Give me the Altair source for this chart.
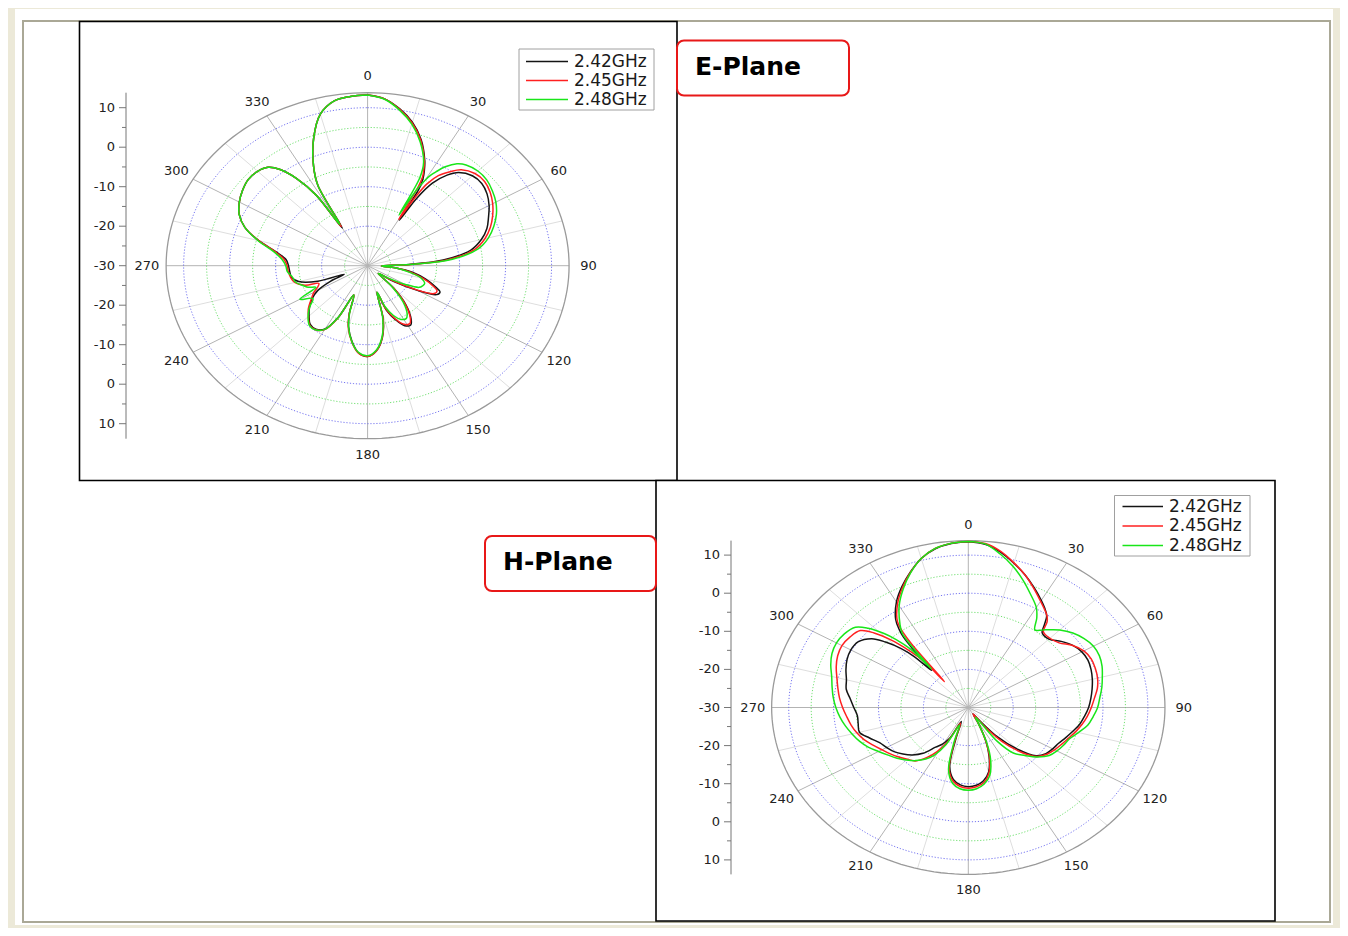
import altair as alt
import pandas as pd

# ------------------------------------------------------------------ data
FREQS = ["2.42GHz", "2.45GHz", "2.48GHz"]
LINE_COLORS = ["#141414", "#ff2020", "#19e619"]
PLANE_TITLES = ["E-Plane", "H-Plane"]

ANGLE_TICKS = [0, 30, 60, 90, 120, 150, 180, 210, 240, 270, 300, 330]
ANGLE_LABELS = ["0", "30", "60", "90", "120", "150", "180", "210", "240", "270", "300", "330"]
RADIAL_LABELS = ["10", "0", "-10", "-20", "-30", "-20", "-10", "0", "10"]
RADIAL_SIDE = [1, 1, 1, 1, 1, -1, -1, -1, -1]
GRID_BLUE = [-20, -10, 0, 10]
GRID_GREEN = [-25, -15, -5, 5]
R_MIN, R_MAX = -30.0, 13.8

# E-plane (angle in degrees, gain in dB)
E_ANGLES = [0, 5, 10, 15, 20, 25,
            27, 28, 29, 30, 31, 32, 34, 37,
            40, 45, 50, 55, 60, 65, 70, 75, 80, 85,
            88, 91, 95,
            100, 105, 110, 113, 116, 120, 125, 130, 135, 140, 145,
            148, 152, 156, 160, 163, 166,
            170, 175, 180, 185, 190, 195,
            198, 202, 206,
            210, 215, 220, 225, 230, 235, 240,
            244, 247,
            250, 255, 260, 265, 270, 275, 280, 285, 290, 295, 300, 305, 310, 315,
            319, 322, 325, 328, 330, 332, 335,
            340, 345, 350, 355]
E_242 = [13.2, 12.4, 10.3, 7.6, 4.0, -0.6,
         -2.8, -4.0, -5.5, -8.0, -16.6, -10.0, -4.8, -1.3,
         0.8, 2.2, 2.4, 1.7, 0.5, -1.0, -2.4, -4.4, -7.2, -13.5,
         -21.0, -27.0, -24.0,
         -20.0, -17.0, -14.3, -12.9, -13.3, -17.5, -23.0, -27.0, -22.0, -17.0, -13.5,
         -12.3, -12.8, -15.0, -18.0, -23.0, -16.0,
         -11.5, -8.3, -7.0, -7.8, -10.5, -14.0,
         -17.0, -22.0, -15.5,
         -11.5, -10.4, -10.6, -12.0, -13.5, -15.2, -17.5,
         -21.0, -24.5,
         -18.5, -14.5, -13.2, -13.0, -12.8, -12.2, -9.8, -5.5, -1.6, 0.8, 2.2, 3.2, 3.9, 3.8,
         3.0, 0.9, -3.0, -9.0, -19.0, -7.0, -2.2,
         4.3, 9.7, 12.3, 13.0]
E_245 = [13.2, 12.4, 10.2, 7.4, 3.8, -0.8,
         -3.2, -4.6, -8.0, -16.5, -9.0, -5.5, -2.5, -0.2,
         1.7, 3.0, 3.2, 2.5, 1.4, 0.0, -1.6, -3.6, -6.4, -12.5,
         -20.5, -27.0, -24.0,
         -20.5, -17.5, -14.8, -13.6, -13.9, -18.0, -23.5, -27.0, -22.0, -17.3, -13.8,
         -12.7, -13.2, -15.3, -18.3, -23.0, -16.0,
         -11.6, -8.3, -7.0, -7.7, -10.3, -13.8,
         -17.0, -22.0, -15.2,
         -11.3, -10.2, -10.4, -11.8, -13.2, -15.0, -16.5,
         -18.0, -18.5,
         -15.5, -13.6, -13.0, -12.7, -12.5, -11.8, -9.6, -5.5, -1.6, 0.8, 2.2, 3.2, 3.9, 3.8,
         3.0, 0.9, -3.0, -9.0, -18.6, -7.0, -2.2,
         4.3, 9.7, 12.3, 13.0]
E_248 = [13.2, 12.3, 10.0, 7.1, 3.4, -1.2,
         -5.0, -15.5, -8.0, -5.0, -3.2, -2.0, 0.2, 2.3,
         3.3, 3.9, 3.8, 3.1, 2.2, 0.9, -0.8, -2.8, -5.6, -11.5,
         -20.0, -27.0, -24.0,
         -21.0, -18.0, -16.8, -17.0, -17.5, -20.5, -24.5, -27.0, -22.5, -18.0, -15.0,
         -14.2, -14.6, -16.2, -19.0, -23.0, -16.5,
         -11.8, -8.5, -7.2, -7.9, -10.4, -14.0,
         -17.3, -22.0, -15.4,
         -11.4, -10.2, -10.3, -11.7, -13.5, -15.5, -13.0,
         -17.5, -16.0,
         -15.2, -13.8, -13.4, -12.5, -12.2, -11.3, -9.2, -5.3, -1.6, 0.8, 2.2, 3.2, 3.9, 3.8,
         3.0, 0.9, -3.0, -9.0, -18.0, -7.0, -2.2,
         4.3, 9.7, 12.3, 13.0]

# H-plane (angle in degrees, gain in dB)
H_ANGLES = [0, 5, 10, 15, 20, 25, 30,
            33, 36, 38, 40,
            45, 50, 55, 60, 65, 70, 75, 80, 85, 90,
            95, 100, 105, 110, 115, 120, 125, 130, 135, 140,
            144, 148, 152, 156, 160,
            165, 170, 175, 180, 185, 190, 195,
            199, 203, 207, 211, 215,
            220, 225, 230, 235, 240, 245, 250, 255, 260, 265,
            270, 275, 280, 285, 290, 295, 300, 305, 310,
            313, 316, 318, 320, 321, 322, 323, 325,
            330, 335, 340, 345, 350, 355]
H_242 = [13.5, 13.0, 11.4, 9.2, 7.0, 4.7, 2.5,
         1.2, -0.3, -2.5, -4.4,
         -4.6, -3.0, -1.6, -0.8, -0.6, -0.9, -1.4, -2.0, -2.6, -3.2,
         -4.0, -4.8, -5.9, -6.9, -7.8, -8.3, -8.9, -10.3, -14.5, -20.0,
         -26.0, -28.0, -25.0, -20.5, -16.5,
         -12.5, -10.5, -9.5, -9.2, -9.6, -10.8, -14.0,
         -22.0, -26.0, -21.0, -18.8, -17.3,
         -14.3, -12.4, -11.0, -9.8, -9.0, -8.2, -6.6, -4.9, -5.1, -5.2,
         -4.5, -3.6, -2.4, -1.9, -1.0, -0.2, 0.2, 0.0, -1.9,
         -4.8, -8.5, -12.0, -17.3, -11.0, -6.5, -4.5, -1.8,
         2.0, 5.0, 7.8, 10.5, 12.3, 13.2]
H_245 = [13.6, 13.2, 11.6, 9.3, 7.0, 4.5, 2.2,
         1.0, -0.2, -1.5, -4.0,
         -4.3, -3.6, -1.6, -0.3, 0.2, 0.1, -0.2, -0.8, -1.8, -2.6,
         -3.4, -4.3, -5.3, -6.3, -7.1, -7.8, -8.6, -10.0, -13.5, -18.5,
         -24.0, -28.0, -25.0, -20.5, -16.2,
         -12.2, -10.0, -9.1, -8.8, -9.2, -10.4, -13.5,
         -21.0, -25.5, -20.0, -16.5, -14.0,
         -11.7, -10.8, -9.8, -8.8, -7.8, -6.6, -5.3, -4.3, -3.5, -2.8,
         -2.0, -1.2, -0.5, 0.3, 1.3, 2.1, 2.5, 2.2, 1.4,
         -1.3, -5.5, -9.0, -12.5, -15.5, -21.4, -8.0, -2.5,
         1.5, 4.7, 7.7, 10.5, 12.4, 13.3]
H_248 = [13.6, 13.1, 10.9, 8.4, 5.6, 2.8, 0.3,
         -2.0, -4.8, -4.3, -3.4,
         -1.2, 0.4, 1.5, 2.2, 2.2, 1.7, 0.9, 0.2, -0.6, -1.2,
         -2.1, -3.0, -4.6, -6.0, -6.6, -7.2, -8.0, -9.8, -12.2, -14.4,
         -19.0, -27.0, -25.0, -20.0, -15.5,
         -11.5, -9.6, -8.6, -8.3, -8.6, -9.8, -13.0,
         -20.0, -25.0, -19.0, -15.5, -13.5,
         -11.8, -10.5, -9.3, -8.2, -6.9, -5.4, -4.2, -3.2, -2.2, -1.3,
         -0.5, 0.2, 0.8, 1.5, 2.6, 3.5, 3.9, 3.7, 2.8,
         0.5, -3.0, -6.0, -10.0, -17.0, -9.0, -5.5, -3.5,
         0.8, 4.3, 7.6, 10.5, 12.4, 13.3]

for name, ang, vals in [("E_242", E_ANGLES, E_242), ("E_245", E_ANGLES, E_245),
                        ("E_248", E_ANGLES, E_248), ("H_242", H_ANGLES, H_242),
                        ("H_245", H_ANGLES, H_245), ("H_248", H_ANGLES, H_248)]:
    if len(ang) != len(vals):
        raise ValueError(f"{name}: {len(vals)} values for {len(ang)} angles")

# ------------------------------------------------------------------ layout
W, H = 1332, 920
FONT = "DejaVu Sans"
SPAN = R_MAX - R_MIN
LABEL_R = 48.0


def curve_frame(angles, series):
    rows = []
    for f, vals in zip(FREQS, series):
        a_closed = list(angles) + [360]
        v_closed = list(vals) + [vals[0]]
        for i, (a, v) in enumerate(zip(a_closed, v_closed)):
            rows.append({"freq": f, "idx": i, "angle": a, "db": v})
    return pd.DataFrame(rows)


def polar_panel(angles, series, cx, cy, kx, ky, axis_px):
    xs = alt.Scale(domain=[-cx / kx, (W - cx) / kx], nice=False, zero=False)
    ys = alt.Scale(domain=[-(H - cy) / ky, cy / ky], nice=False, zero=False)

    def X(f):
        return alt.X(f, type="quantitative", scale=xs, axis=None)

    def Y(f):
        return alt.Y(f, type="quantitative", scale=ys, axis=None)

    def circles(dbs, color, width, dash=None):
        kw = dict(color=color, strokeWidth=width)
        if dash:
            kw["strokeDash"] = dash
        return (
            alt.Chart(pd.DataFrame({"db": dbs}))
            .transform_calculate(a="sequence(0, 362, 2)")
            .transform_flatten(["a"])
            .transform_calculate(
                r=f"datum.db - ({R_MIN})",
                gx="datum.r * sin(datum.a * PI / 180)",
                gy="datum.r * cos(datum.a * PI / 180)",
            )
            .mark_line(**kw)
            .encode(x=X("gx"), y=Y("gy"), detail="db:N", order="a:Q")
        )

    spokes_df = pd.DataFrame({"ang": ANGLE_TICKS})
    major = (
        alt.Chart(spokes_df)
        .transform_calculate(
            x0="0", y0="0",
            x1=f"{SPAN} * sin(datum.ang * PI / 180)",
            y1=f"{SPAN} * cos(datum.ang * PI / 180)",
        )
        .mark_rule(color="#b3b3b3", strokeWidth=1)
        .encode(x=X("x0"), y=Y("y0"), x2="x1:Q", y2="y1:Q")
    )
    minor = (
        alt.Chart(spokes_df)
        .transform_calculate(
            x0="0", y0="0",
            x1=f"{SPAN} * sin((datum.ang + 15) * PI / 180)",
            y1=f"{SPAN} * cos((datum.ang + 15) * PI / 180)",
        )
        .mark_rule(color="#dedede", strokeWidth=1)
        .encode(x=X("x0"), y=Y("y0"), x2="x1:Q", y2="y1:Q")
    )
    labels = (
        alt.Chart(pd.DataFrame({"ang": ANGLE_TICKS, "lab": ANGLE_LABELS}))
        .transform_calculate(
            lx=f"{LABEL_R} * sin(datum.ang * PI / 180)",
            ly=f"{LABEL_R} * cos(datum.ang * PI / 180)",
        )
        .mark_text(font=FONT, fontSize=13, color="#222222", align="center", baseline="middle")
        .encode(x=X("lx"), y=Y("ly"), text="lab:N")
    )

    # radial axis at the left
    rad = alt.Chart(pd.DataFrame({"lab": RADIAL_LABELS, "side": RADIAL_SIDE})).transform_calculate(
        ty=f"datum.side * (toNumber(datum.lab) - ({R_MIN}))"
    )
    rad_ticks = rad.mark_rule(color="#777777", strokeWidth=1).encode(
        x=alt.value(axis_px - 7), x2=alt.value(axis_px), y=Y("ty"))
    rad_text = rad.mark_text(font=FONT, fontSize=13, color="#222222", align="right",
                             baseline="middle").encode(
        x=alt.value(axis_px - 11), y=Y("ty"), text="lab:N")
    minor_ticks = (
        alt.Chart(pd.DataFrame({"db": GRID_GREEN * 2, "side": [1] * 4 + [-1] * 4}))
        .transform_calculate(ty=f"datum.side * (datum.db - ({R_MIN}))")
        .mark_rule(color="#777777", strokeWidth=1)
        .encode(x=alt.value(axis_px - 4), x2=alt.value(axis_px), y=Y("ty"))
    )
    axis_line = (
        alt.Chart(pd.DataFrame({"k": [0]}))
        .transform_calculate(ya=f"{SPAN}", yb=f"-{SPAN}")
        .mark_rule(color="#777777", strokeWidth=1)
        .encode(x=alt.value(axis_px), y=Y("ya"), y2="yb:Q")
    )

    df = curve_frame(angles, series)
    curves = []
    for f in FREQS:
        curves.append(
            alt.Chart(df)
            .transform_filter(alt.datum.freq == f)
            .transform_calculate(
                r=f"max(datum.db - ({R_MIN}), 0)",
                lx="datum.r * sin(datum.angle * PI / 180)",
                ly="datum.r * cos(datum.angle * PI / 180)",
            )
            .mark_line(interpolate="catmull-rom", strokeWidth=1.5)
            .encode(
                x=X("lx"), y=Y("ly"),
                color=alt.Color("freq:N", scale=alt.Scale(domain=FREQS, range=LINE_COLORS),
                                legend=None),
                order="idx:Q",
            )
        )

    return alt.layer(
        minor, major,
        circles(GRID_GREEN, "#63dd63", 0.9, [1.2, 1.8]),
        circles(GRID_BLUE, "#6666ee", 0.9, [1.2, 1.8]),
        circles([R_MAX], "#9a9a9a", 1.3),
        labels, axis_line, rad_ticks, minor_ticks, rad_text,
        *curves,
    )


# frame (page furniture) in canvas pixels
fx = alt.Scale(domain=[0, W], nice=False, zero=False)
fy = alt.Scale(domain=[0, H], nice=False, zero=False, reverse=True)


def rect(x0, y0, x1, y1, **style):
    return alt.Chart(pd.DataFrame({"x0": [x0], "x1": [x1], "y0": [y0], "y1": [y1]})).mark_rect(
        **style).encode(
        x=alt.X("x0:Q", scale=fx, axis=None), x2="x1:Q",
        y=alt.Y("y0:Q", scale=fy, axis=None), y2="y1:Q")


def title_text(i, x, y):
    return alt.Chart(pd.DataFrame({"t": [PLANE_TITLES[i]], "x": [x], "y": [y]})).mark_text(
        font=FONT, fontSize=25, fontWeight="bold", color="#000000", align="left",
        baseline="middle").encode(
        x=alt.X("x:Q", scale=fx, axis=None), y=alt.Y("y:Q", scale=fy, axis=None), text="t:N")


def legend(bx0, by0, bx1, by1, lx0, lx1, tx, ry0, dy):
    box = rect(bx0, by0, bx1, by1, fill="white", stroke="#a0a0a0", strokeWidth=1)
    ldf = pd.DataFrame({"freq": FREQS, "row": list(range(len(FREQS)))})
    base = alt.Chart(ldf).transform_calculate(ly=f"{ry0} + datum.row * {dy}")
    col = alt.Color("freq:N", scale=alt.Scale(domain=FREQS, range=LINE_COLORS), legend=None)
    lines = base.mark_rule(strokeWidth=1.5).encode(
        x=alt.value(lx0), x2=alt.value(lx1), y=alt.Y("ly:Q", scale=fy, axis=None), color=col)
    texts = base.mark_text(font=FONT, fontSize=17, color="#1a1a1a", align="left",
                           baseline="middle").encode(
        x=alt.value(tx), y=alt.Y("ly:Q", scale=fy, axis=None), text="freq:N")
    return alt.layer(box, lines, texts)


frame = alt.layer(
    rect(7, 1, 1325, 917, fill="white"),
    rect(15, 13, 1322, 914, fillOpacity=0, stroke="#aaa896", strokeWidth=2),
    rect(71.5, 13.5, 669, 472.5, fill="white", stroke="#000000", strokeWidth=1.6),
    rect(648, 472.5, 1267, 913, fill="white", stroke="#000000", strokeWidth=1.6),
    rect(669, 32.5, 841, 87.5, fill="white", stroke="#e81818", strokeWidth=2, cornerRadius=7),
    rect(477, 528, 648, 583, fill="white", stroke="#e81818", strokeWidth=2, cornerRadius=7),
    title_text(0, 687, 59),
    title_text(1, 495, 554),
    legend(511, 41, 646, 102, 518, 560, 566, 53.5, 19),
    legend(1106.5, 487.5, 1242, 548, 1114.5, 1155, 1161, 498.5, 19.5),
)

e_panel = polar_panel(E_ANGLES, [E_242, E_245, E_248],
                      cx=359.6, cy=257.7, kx=4.6, ky=3.95, axis_px=118)
h_panel = polar_panel(H_ANGLES, [H_242, H_245, H_248],
                      cx=960.3, cy=699.5, kx=4.49, ky=3.81, axis_px=723)

chart = (
    alt.layer(frame, e_panel, h_panel)
    .resolve_scale(x="independent", y="independent")
    .properties(width=W, height=H, background="#ece9d8", padding=0,
                autosize=alt.AutoSizeParams(type="none"))
    .configure_view(stroke=None)
)

chart.save("out.html", embed_options={"renderer": "svg", "actions": False})
